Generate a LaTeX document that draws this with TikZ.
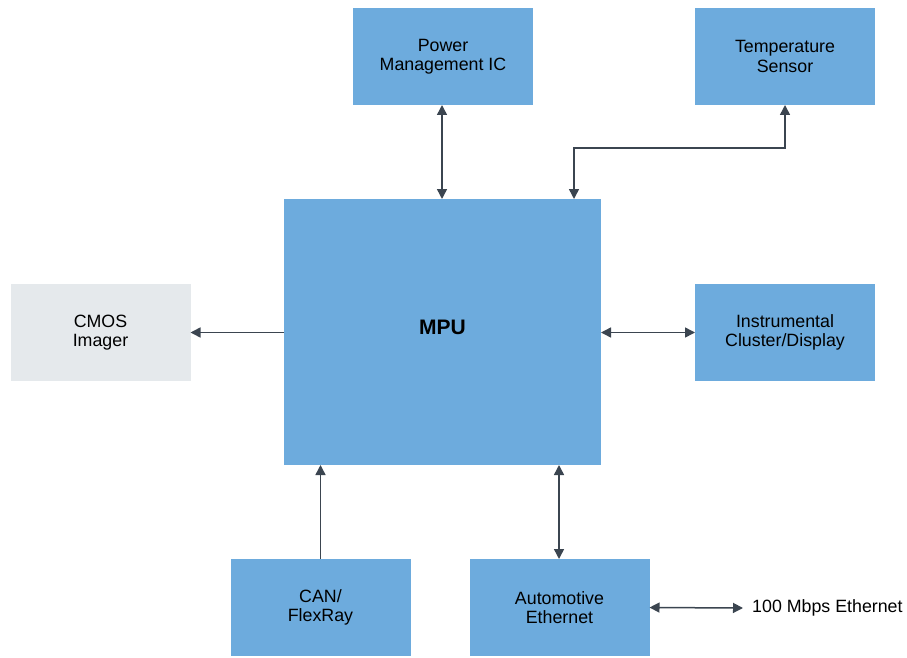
\documentclass[tikz,border=0pt]{standalone}
\usepackage{fontspec}
\setmainfont{Liberation Sans}
\usetikzlibrary{arrows.meta}
\definecolor{boxblue}{HTML}{6DABDD}
\definecolor{boxgray}{HTML}{E5E9EC}
\definecolor{linegray}{HTML}{3B4550}
\begin{document}
\begin{tikzpicture}[x=1pt,y=-1pt]
  \tikzset{BlockStyle/.style = {
    shape         = rectangle,
    draw          = none,
    fill          = boxblue,
    text          = black,
    align         = center,
    inner sep     = 0pt,
    outer sep     = 0pt,
    minimum width = 180pt,
    minimum height= 97pt,
    font          = \fontsize{17.8}{19.5}\selectfont
    }
  }
  \tikzset{GrayBlockStyle/.style = {
    BlockStyle,
    fill          = boxgray
    }
  }
  \tikzset{LinkStyle/.style = {
    draw          = linegray,
    line width    = 1.5pt,
    arrows        = {Triangle[length=10pt,width=10pt]-Triangle[length=10pt,width=10pt]}
    }
  }
  \tikzset{OneWayStyle/.style = {
    draw          = linegray,
    line width    = 1.5pt,
    -{Triangle[length=10pt,width=10pt]}
    }
  }

  \useasboundingbox (0,0) rectangle (907,658);

  \node[BlockStyle](PMIC) at (443, 56.5) {Power\\Management IC};
  \node[BlockStyle](TempSensor) at (785, 56.5) {Temperature\\Sensor};
  \node[BlockStyle, minimum width=317pt, minimum height=266pt](MPU) at (442.5, 332) {};
  \node[font=\fontsize{21}{23}\selectfont\bfseries](MPULabel) at (442.5, 327) {MPU};
  \node[GrayBlockStyle](CMOS) at (100.5, 332.5) {CMOS\\Imager};
  \node[BlockStyle](Cluster) at (785, 332.5) {Instrumental\\Cluster/Display};
  \node[BlockStyle](CAN) at (320.5, 607.5) {CAN/\\FlexRay};
  \node[BlockStyle](AutoEth) at (559.5, 607.5) {Automotive\\Ethernet};
  \node[anchor=west, inner sep=0pt, font=\fontsize{17.8}{19.5}\selectfont](EthText) at (752, 608) {100 Mbps Ethernet};
  \coordinate (TempBend) at (574, 148);

  \draw[LinkStyle](PMIC.south -| 442, 105) -- (442, 199);
  \draw[LinkStyle](TempSensor.south) |- (TempBend) -- (TempBend |- MPU.north);
  \draw[OneWayStyle](MPU.west |- CMOS.east) -- (CMOS.east);
  \draw[LinkStyle](MPU.east |- Cluster.west) -- (Cluster.west);
  \draw[OneWayStyle](CAN.north) -- (CAN.north |- MPU.south);
  \draw[LinkStyle](AutoEth.north -| 559, 559) -- (559, 465);
  \draw[LinkStyle](AutoEth.east) -- ([xshift=-9pt]EthText.west);

\end{tikzpicture}
\end{document}
